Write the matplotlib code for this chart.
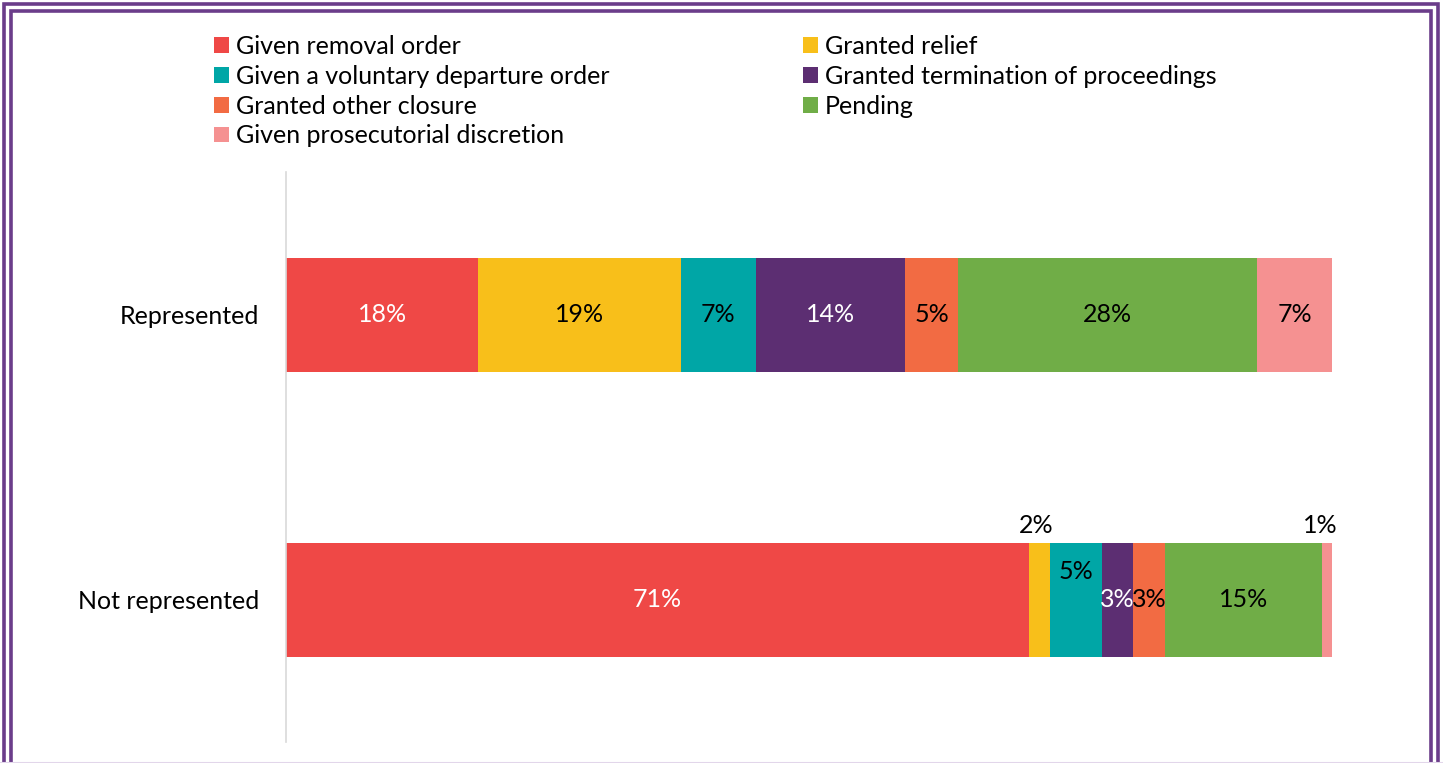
import matplotlib
matplotlib.use("Agg")
import matplotlib.pyplot as plt
import numpy as np
from matplotlib.patches import Rectangle

plt.rcParams["font.family"] = ["Lato", "DejaVu Sans"]

groups = ["Represented", "Not represented"]
outcomes = [
    "Given removal order",
    "Granted relief",
    "Given a voluntary departure order",
    "Granted termination of proceedings",
    "Granted other closure",
    "Pending",
    "Given prosecutorial discretion",
]
# percent of cases per outcome, one list per group
represented = [18, 19, 7, 14, 5, 28, 7]
not_represented = [71, 2, 5, 3, 3, 15, 1]

colors = ["#EF4846", "#F8BF1A", "#00A6A6", "#5C2E72", "#F26B43", "#70AD47", "#F59191"]
label_colors = ["white", "black", "black", "white", "black", "black", "black"]

# (group index, outcome index) -> label offset in points, for thin segments
label_offsets = {
    (1, 1): (-2, 53),
    (1, 2): (0, 20),
    (1, 6): (-5, 53),
}

W, H = 1443, 763
fig = plt.figure(figsize=(W / 100, H / 100), dpi=100)
ax = fig.add_axes([286 / W, 1 - 742 / H, (1332 - 286) / W, (742 - 172) / H])

rows = np.array([represented, not_represented], dtype=float)
shares = rows / rows.sum(axis=1, keepdims=True) * 100
ypos = np.arange(len(groups))

left = np.zeros(len(groups))
bars = []
for j, name in enumerate(outcomes):
    b = ax.barh(ypos, shares[:, j], left=left, height=0.4, color=colors[j],
                label=name, edgecolor="none")
    bars.append(b)
    for i in range(len(groups)):
        cx = left[i] + shares[i, j] / 2
        dx, dy = label_offsets.get((i, j), (0, 0))
        # labels lifted above the bar sit on white, so keep them black
        color = "black" if dy > 30 else label_colors[j]
        ax.annotate(f"{rows[i, j]:.0f}%", (cx, ypos[i]), xytext=(dx, dy),
                    textcoords="offset points", ha="center", va="center",
                    fontsize=18, color=color)
    left += shares[:, j]

ax.set_xlim(0, 100)
ax.set_ylim(1.5, -0.5)
ax.set_yticks(ypos)
ax.set_yticklabels(groups, fontsize=18)
ax.tick_params(axis="y", length=0, pad=19)
ax.xaxis.set_visible(False)
for side in ("top", "right", "bottom"):
    ax.spines[side].set_visible(False)
ax.spines["left"].set_color("#D9D9D9")
ax.spines["left"].set_linewidth(1.2)

order = [0, 2, 4, 6, 1, 3, 5]
fig.legend([bars[k] for k in order], [outcomes[k] for k in order],
           loc="upper left", bbox_to_anchor=(214 / W, 1 - 35 / H), ncol=2,
           frameon=False, fontsize=18, handlelength=0.6, handleheight=0.6,
           handletextpad=0.3, labelspacing=0.27, columnspacing=7.7,
           borderpad=0, borderaxespad=0)

# double purple frame around the figure
for inset, lw in ((4, 2.6), (11, 2.6)):
    fig.patches.append(Rectangle((inset / W, -0.05), 1 - 2 * inset / W - 0.0005,
                                 1.05 - inset / H, transform=fig.transFigure,
                                 fill=False, edgecolor="#6B3D8A", linewidth=lw))
fig.add_artist(plt.Line2D([0, 1], [0.5 / H, 0.5 / H], transform=fig.transFigure,
                          color="#E2D6EA", linewidth=1.5))

fig.savefig("out.png", dpi=100)
